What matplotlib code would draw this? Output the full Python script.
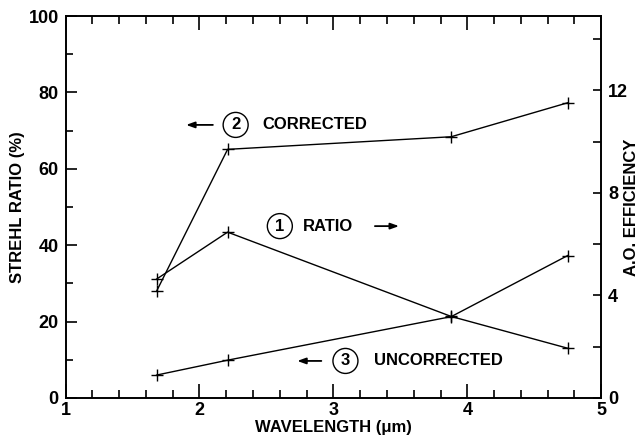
import matplotlib.pyplot as plt
from matplotlib.ticker import MultipleLocator

plt.rcParams["font.family"] = ["Liberation Sans", "DejaVu Sans"]
plt.rcParams["font.weight"] = "bold"

# data
wavelength = [1.68, 2.21, 3.88, 4.75]
strehl_corrected = [28.0, 65.1, 68.4, 77.3]
strehl_uncorrected = [6.0, 9.9, 21.3, 37.3]
ao_ratio = [4.64, 6.47, 3.18, 1.94]

fig = plt.figure(figsize=(6.43, 4.40), dpi=100)
ax = fig.add_axes([0.102, 0.0955, 0.833, 0.868])
ax2 = ax.twinx()

line_kw = dict(color="black", lw=1.0, marker="+", ms=9, mew=1.0)
ax.plot(wavelength, strehl_corrected, **line_kw)
ax.plot(wavelength, strehl_uncorrected, **line_kw)
ax2.plot(wavelength, ao_ratio, **line_kw)

ax.set_xlim(1, 5)
ax.set_ylim(0, 100)
ax2.set_ylim(0, 14.9)

ax.xaxis.set_major_locator(MultipleLocator(1))
ax.xaxis.set_minor_locator(MultipleLocator(0.2))
ax.yaxis.set_major_locator(MultipleLocator(20))
ax.yaxis.set_minor_locator(MultipleLocator(10))
ax2.yaxis.set_major_locator(MultipleLocator(4))
ax2.yaxis.set_minor_locator(MultipleLocator(2))

ax.tick_params(axis="x", which="both", direction="in", top=True, labelsize=13, width=1.2, pad=3)
ax.tick_params(axis="x", which="major", length=10)
ax.tick_params(axis="x", which="minor", length=6)
ax.tick_params(axis="y", which="both", direction="in", right=False, labelsize=13, width=1.2, pad=5)
ax.tick_params(axis="y", which="major", length=8)
ax.tick_params(axis="y", which="minor", length=5)
ax2.tick_params(axis="y", which="both", direction="in", length=6, width=1.2, labelsize=13, pad=5)

for a in (ax, ax2):
    for s in a.spines.values():
        s.set_linewidth(1.2)

ax.set_xlabel("WAVELENGTH (μm)", fontsize=12, fontweight="bold")
ax.set_ylabel("STREHL RATIO (%)", fontsize=12, fontweight="bold")
ax2.set_ylabel("A.O. EFFICIENCY", fontsize=12, fontweight="bold", rotation=90)
ax.xaxis.set_label_coords(0.5, -0.058)
ax.yaxis.set_label_coords(-0.076, 0.5)
ax2.yaxis.set_label_coords(1.042, 0.5)

circ = dict(boxstyle="circle,pad=0.3", fc="white", ec="black", lw=1.0)
arrow = dict(arrowstyle="-|>,head_length=0.5,head_width=0.18", color="black", lw=1.3, shrinkA=0, shrinkB=0)

# (2) corrected
ax.annotate("", xy=(1.90, 71.5), xytext=(2.10, 71.5), arrowprops=arrow)
ax.text(2.27, 71.5, "2", fontsize=12, ha="center", va="center", bbox=circ)
ax.text(2.47, 71.5, "CORRECTED", fontsize=12, ha="left", va="center")

# (1) ratio
ax.text(2.60, 45.0, "1", fontsize=12, ha="center", va="center", bbox=circ)
ax.text(2.77, 45.0, "RATIO", fontsize=12, ha="left", va="center")
ax.annotate("", xy=(3.49, 45.0), xytext=(3.31, 45.0), arrowprops=arrow)

# (3) uncorrected
ax.annotate("", xy=(2.73, 9.7), xytext=(2.91, 9.7), arrowprops=arrow)
ax.text(3.09, 9.7, "3", fontsize=12, ha="center", va="center", bbox=circ)
ax.text(3.30, 9.7, "UNCORRECTED", fontsize=12, ha="left", va="center")

fig.savefig("out.png", dpi=100)
